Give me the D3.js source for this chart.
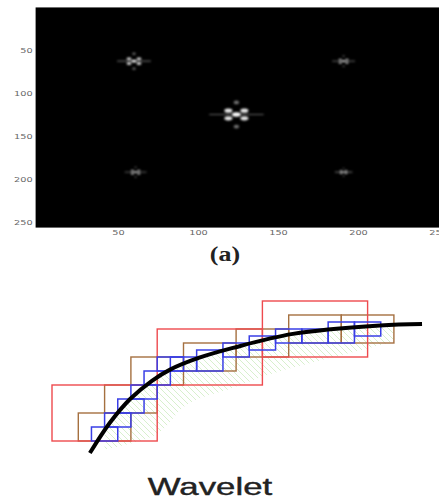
<!DOCTYPE html>
<html>
<head>
<meta charset="utf-8">
<script src="https://cdn.jsdelivr.net/npm/d3@7"></script>
<style>
  body { margin: 0; background: #fff; }
  svg { display: block; }
</style>
</head>
<body>
<svg id="chart" width="439" height="499"></svg>
<script>
// ---- panel (a): image spectrum ----
const imgTicks = [50, 100, 150, 200, 250];
const blobX = [60, 191, 124, 61, 191];
const blobY = [63, 63, 125, 192, 192];
const blobSize = [0.62, 0.42, 1, 0.4, 0.32];
const blobPeak = [0.95, 0.85, 1, 0.8, 1];
// spot pattern of each blob (image units, for size 1)
const spotDx = [0, -5, 5, -5, 5, 0, 0];
const spotDy = [0, -4.5, -4.5, 4.5, 4.5, -14, 14];
const spotRx = [2.7, 2.5, 2.5, 2.5, 2.5, 1.7, 1.7];
const spotRy = [2.6, 2.5, 2.5, 2.5, 2.5, 2.2, 2.2];
const spotBright = [1, 0.92, 0.92, 0.92, 0.92, 0.45, 0.45];
const streakHalf = 17;

// ---- panel (b): wavelet tiling ----
const redBoxes = [[0, 4, 0, 4], [4, 8, 4, 8], [8, 12, 6, 10]];
const brownBoxes = [[1, 3, 0, 2], [2, 4, 2, 4], [3, 5, 4, 6], [5, 7, 5, 7], [7, 9, 6, 8], [9, 11, 7, 9], [11, 13, 7, 9]];
const blueBoxes = [[1.5, 2.5, 0, 1], [2, 3, 1, 2], [2.5, 3.5, 2, 3], [3, 4, 3, 4], [3.5, 4.5, 4, 5],
  [4, 5, 5, 6], [4.5, 5.5, 5, 6], [5.5, 6.5, 5, 6.5], [6.5, 7.5, 6, 7], [7.5, 8.5, 6.5, 7.5],
  [8.5, 9.5, 7, 8], [9.5, 10.5, 7, 8], [10.5, 11.5, 7, 8.5], [11.5, 12.5, 7.5, 8.5]];
const curveX = [1.44, 2.2, 2.97, 3.8, 4.49, 5.6, 6.88, 9.16, 12.47, 14.07];
const curveY = [-0.86, 1.3, 3.0, 4.3, 5.1, 5.95, 6.65, 7.65, 8.25, 8.36];
const hatchLowX = [2.0, 4, 5.13, 6.88, 8.17, 10.08, 11.98, 12.97];
const hatchLowY = [-0.6, 0.5, 2.6, 3.8, 4.7, 5.7, 6.6, 7.1];

const svg = d3.select('#chart');
const defs = svg.append('defs');

defs.append('filter').attr('id', 'soft')
  .attr('x', '-50%').attr('y', '-50%').attr('width', '200%').attr('height', '200%')
  .append('feGaussianBlur').attr('stdDeviation', 0.9);

const pat = defs.append('pattern').attr('id', 'hatch')
  .attr('patternUnits', 'userSpaceOnUse').attr('width', 6).attr('height', 6);
pat.append('path').attr('d', 'M-1,-1 L7,7 M-4,2 L4,10 M2,-4 L10,4')
  .attr('stroke', '#b9e3a6').attr('stroke-width', 0.8);

// ======== panel (a) ========
const xImg = d3.scaleLinear().domain([0, 250]).range([38, 438]);
const yImg = d3.scaleLinear().domain([0, 250]).range([7, 222]);

const panelA = svg.append('g');
panelA.append('rect')
  .attr('x', xImg(-1.5)).attr('y', yImg(0.5))
  .attr('width', xImg(256.5) - xImg(-1.5)).attr('height', yImg(256.5) - yImg(0.5))
  .attr('fill', '#000');

const blobG = panelA.append('g').attr('filter', 'url(#soft)');
d3.range(blobX.length).forEach(function (b) {
  const s = blobSize[b];
  blobG.append('line')
    .attr('x1', xImg(blobX[b] - streakHalf * s)).attr('x2', xImg(blobX[b] + streakHalf * s))
    .attr('y1', yImg(blobY[b])).attr('y2', yImg(blobY[b]))
    .attr('stroke', '#fff').attr('stroke-opacity', 0.4 * blobPeak[b]).attr('stroke-width', 1.2);
  blobG.selectAll(null)
    .data(d3.range(spotDx.length))
    .enter().append('ellipse')
    .attr('cx', i => xImg(blobX[b] + spotDx[i] * s))
    .attr('cy', i => yImg(blobY[b] + spotDy[i] * s))
    .attr('rx', i => (xImg(spotRx[i] * s) - xImg(0)))
    .attr('ry', i => (yImg(spotRy[i] * s) - yImg(0)))
    .attr('fill', '#fff')
    .attr('fill-opacity', i => spotBright[i] * blobPeak[b]);
});

const yAx = panelA.append('g')
  .attr('transform', 'translate(' + xImg(-1.5) + ',0)')
  .call(d3.axisLeft(yImg).tickValues(imgTicks).tickSize(0).tickPadding(3));
yAx.select('.domain').remove();
yAx.selectAll('.tick text')
  .attr('font-family', 'DejaVu Sans').attr('font-size', 6.5).attr('fill', '#666')
  .attr('transform', 'scale(1.5,1)').attr('x', -2);

const xAx = panelA.append('g')
  .attr('transform', 'translate(0,' + yImg(256.5) + ')')
  .call(d3.axisBottom(xImg).tickValues(imgTicks).tickSize(0).tickPadding(3));
xAx.select('.domain').remove();
xAx.selectAll('.tick text')
  .attr('font-family', 'DejaVu Sans').attr('font-size', 6.5).attr('fill', '#666')
  .attr('transform', 'scale(1.5,1)');

svg.append('text')
  .attr('transform', 'translate(225,261) scale(1.3,1)')
  .attr('text-anchor', 'middle')
  .attr('font-family', 'Liberation Serif').attr('font-weight', 'bold').attr('font-size', 20)
  .attr('fill', '#222')
  .text('(a)');

// ======== panel (b) ========
const xW = d3.scaleLinear().domain([0, 16]).range([52, 52 + 16 * 26.3]);
const yW = d3.scaleLinear().domain([0, 10]).range([441, 301]);

const panelB = svg.append('g');

const line = d3.line().x(d => xW(d[0])).y(d => yW(d[1])).curve(d3.curveCatmullRom.alpha(0.5));
const curvePts = curveX.map((x, i) => [x, curveY[i]]);
const upper = curvePts.filter(d => d[0] >= 1.9 && d[0] <= 12.97);
upper.unshift([2.0, 0.7]);
upper.push([12.97, 8.28]);
const lower = hatchLowX.map((x, i) => [x, hatchLowY[i]]).reverse();
panelB.append('path')
  .attr('d', line(upper) + 'L' + line(lower).slice(1) + 'Z')
  .attr('fill', 'url(#hatch)').attr('opacity', 0.7);

function boxes(data, color, w) {
  panelB.append('g').selectAll('rect')
    .data(data).enter().append('rect')
    .attr('x', d => xW(d[0])).attr('y', d => yW(d[3]))
    .attr('width', d => xW(d[1]) - xW(d[0])).attr('height', d => yW(d[2]) - yW(d[3]))
    .attr('fill', 'none').attr('stroke', color).attr('stroke-width', w);
}
boxes(brownBoxes, '#a57040', 1.4);
boxes(redBoxes, '#ee4a4e', 1.4);
boxes(blueBoxes, '#3a3fe6', 1.5);

panelB.append('path')
  .attr('d', line(curvePts))
  .attr('fill', 'none').attr('stroke', '#000').attr('stroke-width', 4).attr('stroke-linecap', 'butt');

svg.append('text')
  .attr('transform', 'translate(210,495) scale(1.45,1)')
  .attr('text-anchor', 'middle')
  .attr('font-family', 'Liberation Sans').attr('font-size', 24)
  .attr('fill', '#222').attr('stroke', '#222').attr('stroke-width', 0.4)
  .text('Wavelet');
</script>
</body>
</html>
